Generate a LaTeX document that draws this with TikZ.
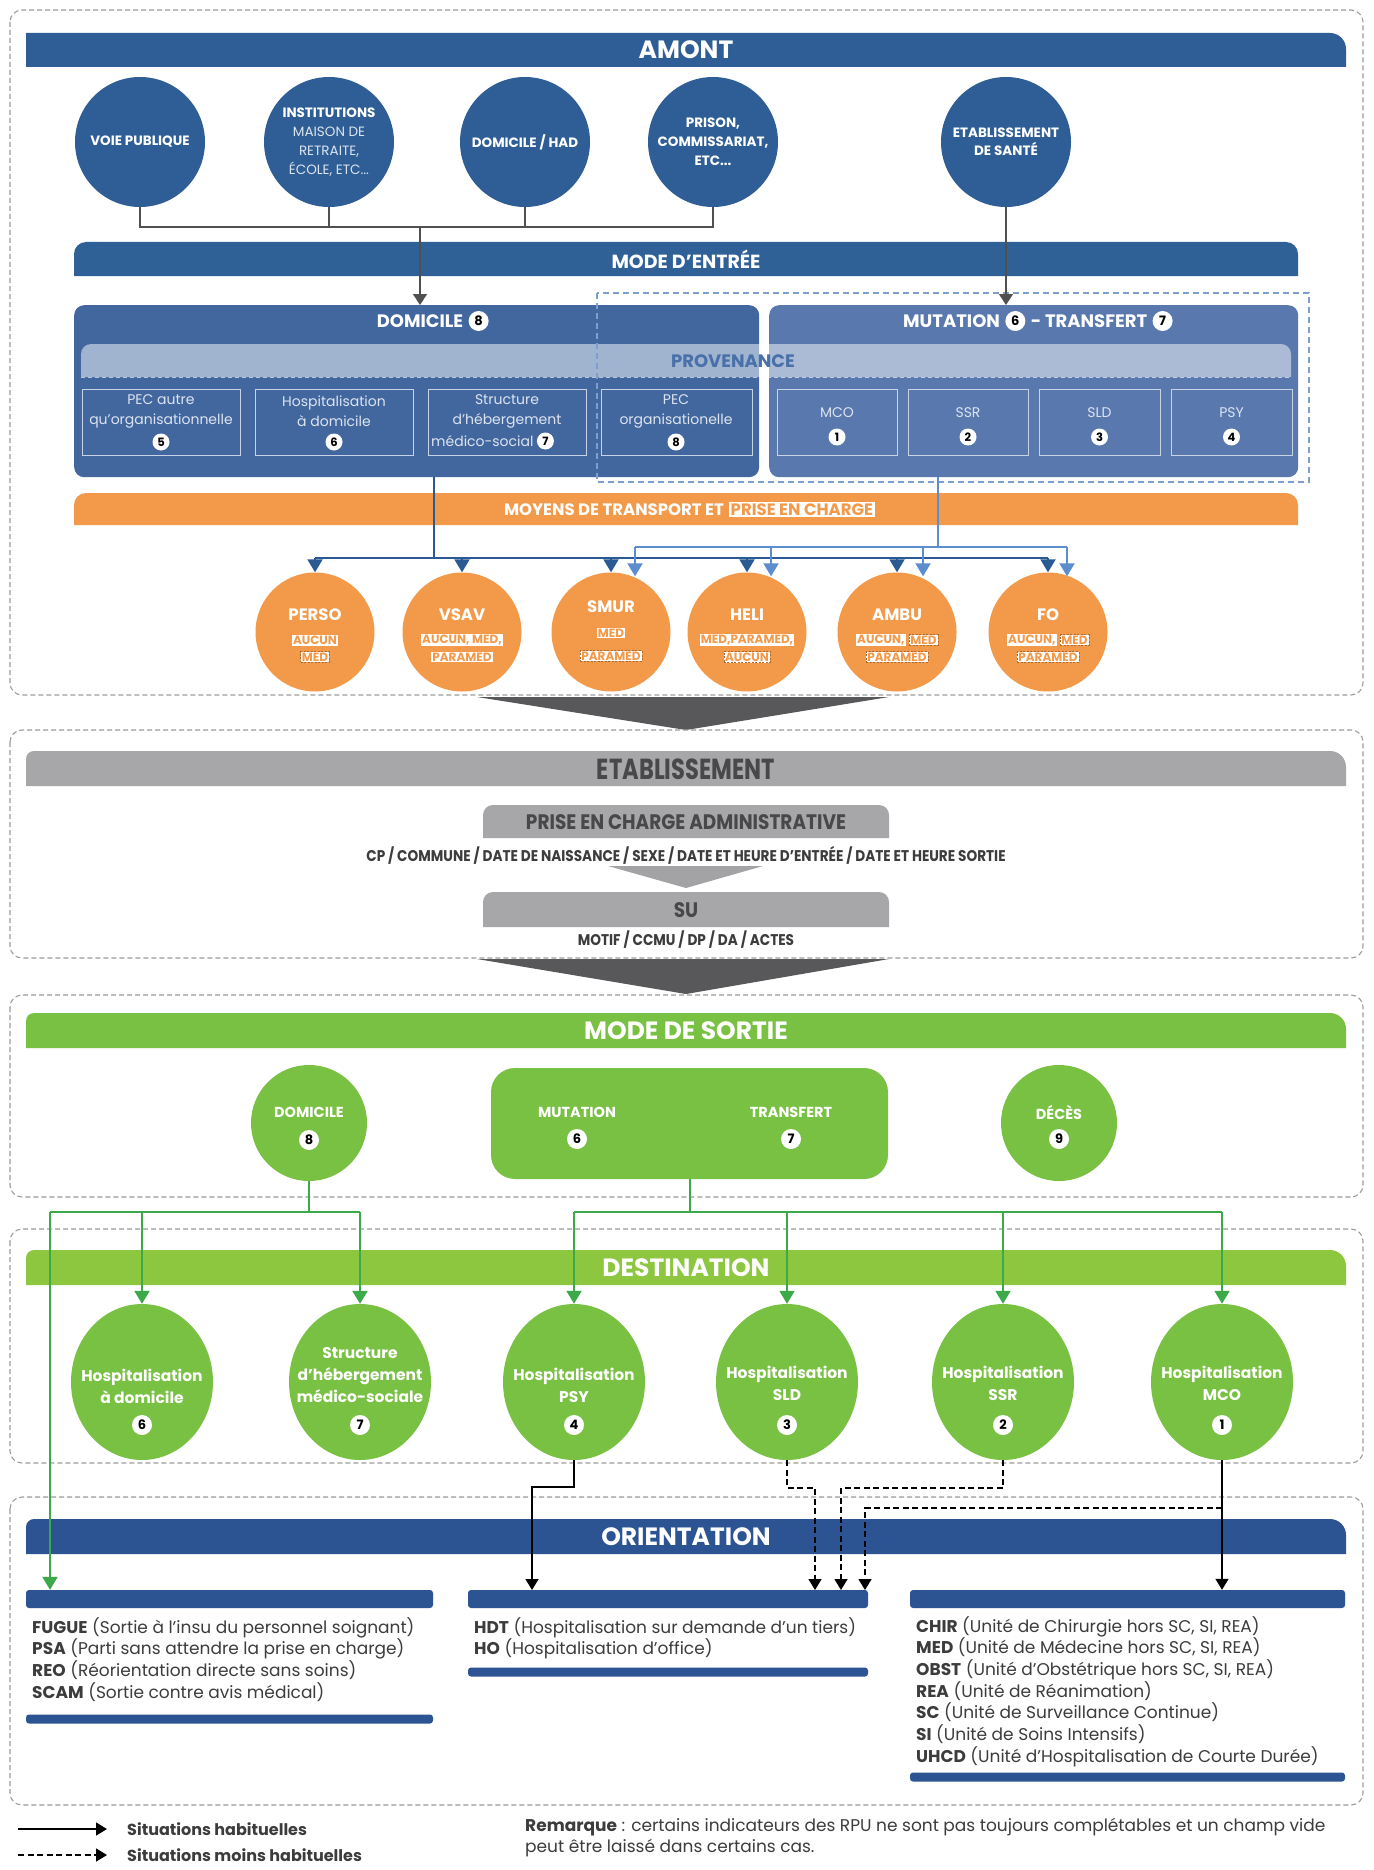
\documentclass[tikz,border=0pt]{standalone}
\usepackage{fontspec}
\usepackage{graphicx}
\setmainfont{Poppins}
\usetikzlibrary{arrows.meta,calc,positioning,shapes.geometric}
\definecolor{navy}{HTML}{2E5E95}
\definecolor{entree}{HTML}{2F6096}
\definecolor{boxA}{HTML}{42679F}
\definecolor{boxB}{HTML}{5878AE}
\definecolor{provtxt}{HTML}{4870A9}
\definecolor{subln}{HTML}{C8D3E6}
\definecolor{subtx}{HTML}{DDE4F0}
\definecolor{dblue}{HTML}{7C9FD0}
\definecolor{orng}{HTML}{F39A4A}
\definecolor{darrow}{HTML}{2A5A94}
\definecolor{larrow}{HTML}{5C8DCE}
\definecolor{gbar}{HTML}{A7A7A9}
\definecolor{gtxt}{HTML}{48484A}
\definecolor{chev}{HTML}{58585A}
\definecolor{chevl}{HTML}{A3A3A5}
\definecolor{grn}{HTML}{79C143}
\definecolor{grn2}{HTML}{8DC740}
\definecolor{gline}{HTML}{3DAA4A}
\definecolor{onavy}{HTML}{2D5492}
\definecolor{dashg}{HTML}{9C9C9C}
\definecolor{txt}{HTML}{3C3C3C}
\definecolor{conn}{HTML}{505050}
\newcommand{\fs}[2]{\fontsize{#1}{#2}\selectfont}
\newcommand{\tabbar}[7]{\fill[#1] (#2,#5) -- (#2,#3+#6) arc[start angle=180,end angle=270,radius=#6] -- (#4-#7,#3) arc[start angle=-90,end angle=0,radius=#7] -- (#4,#5) -- cycle;}
\newcommand{\cnd}[2]{\scalebox{#1}[1]{#2}}
\newcommand{\lt}[1]{{\mdseries\color{subtx}#1}}
\begin{document}
\begin{tikzpicture}[x=1pt,y=-1pt,
  sec/.style={draw=dashg, line width=1.1pt, dash pattern=on 5pt off 3pt, rounded corners=12pt},
  htitle/.style={text=white, font=\bfseries\fs{25}{28}, inner sep=0pt},
  hdr/.style={text=white, font=\bfseries\fs{18}{20}, inner sep=0pt},
  badge/.style={circle, fill=white, text=black, inner sep=0pt, minimum size=17pt, font=\bfseries\fs{11.5}{12}},
  badgeL/.style={badge, minimum size=20pt, font=\bfseries\fs{13}{13}},
  bc/.style={circle, fill=navy, minimum size=130pt, inner sep=0pt, align=center, text=white, font=\bfseries\fs{13.5}{19}},
  gconn/.style={draw=conn, line width=1.5pt},
  garr/.style={gconn, -{Triangle[width=14pt,length=11pt]}},
  sb/.style={draw=subln, line width=1.2pt, inner sep=0pt, minimum height=66pt, anchor=north west},
  st/.style={text=subtx, font=\fs{14}{20}, align=center, inner sep=0pt},
  oc/.style={circle, fill=orng, minimum size=119pt, inner sep=0pt},
  ot/.style={text=white, font=\bfseries\fs{16.5}{18}, inner sep=0pt},
  ol/.style={fill=white, text=orng, font=\bfseries\fs{12}{13}, inner sep=1.2pt},
  old/.style={ol, draw=orng!70!black, dash pattern=on 2pt off 1.5pt, line width=0.5pt},
  dl/.style={draw=darrow, line width=2pt},
  da/.style={dl, -{Triangle[width=15pt,length=13pt]}},
  ll/.style={draw=larrow, line width=2pt},
  la/.style={ll, -{Triangle[width=15pt,length=13pt]}},
  gt/.style={text=gtxt, font=\bfseries\fs{21}{22}, inner sep=0pt},
  gsub/.style={text=txt, font=\bfseries\fs{15.5}{16}, inner sep=0pt},
  gc/.style={circle, fill=grn, minimum size=116pt, inner sep=0pt},
  gtx/.style={text=white, font=\bfseries\fs{14.5}{16}, inner sep=0pt},
  badgeG/.style={badge, minimum size=20pt, font=\bfseries\fs{13}{13}},
  gl/.style={draw=gline, line width=2pt},
  gla/.style={gl, -{Triangle[width=15pt,length=13pt]}},
  de/.style={ellipse, fill=grn, minimum width=142pt, minimum height=156pt, inner sep=0pt},
  dtx/.style={text=white, font=\bfseries\fs{15.5}{22}, align=center, inner sep=0pt},
  obar/.style={fill=onavy, rounded corners=3pt, inner sep=0pt},
  otx/.style={text=txt, font=\fs{17}{21.7}, align=left, inner sep=0pt, anchor=north west},
  barr/.style={draw=black, line width=1.5pt, -{Triangle[width=13pt,length=11pt]}},
  dbarr/.style={barr, dash pattern=on 6pt off 3.5pt}]
\useasboundingbox (0,0) rectangle (1373,1870);
\fill[white] (0,0) rectangle (1373,1870);

% ================= SECTION 1 : AMONT =================
\draw[sec] (10,10) rectangle (1363,695);
\tabbar{navy}{26}{33}{1346}{67}{0.01}{16}
\node[htitle] (amont) at (686,50) {AMONT};

\node[bc] (c1) at (140,142) {VOIE PUBLIQUE};
\node[bc] (c2) at (329,142) {INSTITUTIONS\\\lt{MAISON DE}\\\lt{RETRAITE,}\\\lt{ÉCOLE, ETC...}};
\node[bc] (c3) at (525,142) {DOMICILE / HAD};
\node[bc] (c4) at (713,142) {PRISON,\\COMMISSARIAT,\\ETC...};
\node[bc, font=\bfseries\fs{13.5}{18}] (c5) at (1006,142) {ETABLISSEMENT\\DE SANTÉ};

\tabbar{entree}{74}{242}{1298}{276}{12}{12}
\node[htitle, font=\bfseries\fs{19}{22}] (entree) at (686,259) {MODE D'ENTRÉE};

\node[fill=boxA, rounded corners=10pt, minimum width=685pt, minimum height=172pt, inner sep=0pt, anchor=north west] (dombox) at (74,305) {};
\node[fill=boxB, rounded corners=10pt, minimum width=529pt, minimum height=172pt, inner sep=0pt, anchor=north west] (mutbox) at (769,305) {};

\node[hdr] (domt) at (420,321) {DOMICILE};
\node[badgeL, right=5pt of domt] (bd8) {8};
\node[hdr, anchor=west] (mt1) at (903,321) {MUTATION};
\node[badgeL, right=5pt of mt1] (bd6) {6};
\node[hdr, right=5pt of bd6] (mt2) {- TRANSFERT};
\node[badgeL, right=5pt of mt2] (bd7) {7};

\tabbar{white,fill opacity=0.5}{81}{344}{1291}{377}{10}{10}
\draw[white, opacity=0.6, line width=1pt, dash pattern=on 4pt off 3pt] (81,377) -- (1291,377);
\node[font=\bfseries\fs{18}{20}, text=provtxt, inner sep=0pt] (prov) at (733,361) {PROVENANCE};

\node[sb, minimum width=158pt] (s1) at (82,389) {};
\node[sb, minimum width=158pt] (s2) at (255,389) {};
\node[sb, minimum width=158pt] (s3) at (428,389) {};
\node[sb, minimum width=151pt] (s4) at (601,389) {};
\node[sb, minimum width=120pt] (s5) at (777,389) {};
\node[sb, minimum width=120pt] (s6) at (908,389) {};
\node[sb, minimum width=121pt] (s7) at (1039,389) {};
\node[sb, minimum width=121pt] (s8) at (1171,389) {};

\node[st] (t1) at (161,411) {PEC autre\\qu'organisationnelle};
\node[badge] (b5) at (161,442) {5};
\node[st] (t2) at (334,411) {Hospitalisation\\à domicile};
\node[badge] (b6) at (334,442) {6};
\node[st] (t3) at (507,411) {Structure\\d'hébergement};
\node[st, anchor=west] (t3b) at (431,441) {médico-social};
\node[badge, right=3pt of t3b] (b7) {7};
\node[st] (t4) at (676,411) {PEC\\organisationelle};
\node[badge] (b8) at (676,442) {8};
\node[st] (t5) at (837,413) {MCO};
\node[badge] (b1) at (837,437) {1};
\node[st] (t6) at (968,413) {SSR};
\node[badge] (b2) at (968,437) {2};
\node[st] (t7) at (1099.5,413) {SLD};
\node[badge] (b3) at (1099.5,437) {3};
\node[st] (t8) at (1231.5,413) {PSY};
\node[badge] (b4) at (1231.5,437) {4};

\draw[draw=dblue, line width=1.4pt, dash pattern=on 6pt off 4pt] (597,293) rectangle (1309,482);

\tabbar{orng}{74}{493}{1298}{525}{12}{12}
\node[text=white, font=\bfseries\fs{16.5}{18}, inner sep=0pt, anchor=base east] (moy) at (724,515) {MOYENS DE TRANSPORT ET};
\node[fill=white, text=orng, font=\bfseries\fs{16.5}{18}, inner sep=1.5pt, anchor=base west] (pec) at (729,515) {PRISE EN CHARGE};

% connectors amont
\coordinate (j1) at (420,227);
\draw[gconn] (c1.south) |- (c4.south |- j1) -- (c4.south);
\draw[gconn] (c2.south) -- (c2.south |- j1);
\draw[gconn] (c3.south) -- (c3.south |- j1);
\draw[garr] (j1) -- (j1 |- dombox.north);
\draw[garr] (c5.south) -- (c5.south |- mutbox.north);

% orange circles
\node[oc] (o1) at (315,632) {};
\node[oc] (o2) at (462,632) {};
\node[oc] (o3) at (611,632) {};
\node[oc] (o4) at (747,632) {};
\node[oc] (o5) at (897,632) {};
\node[oc] (o6) at (1048,632) {};
\node[ot] (ot1) at (315,615) {PERSO};
\node[ol] (l1a) at (315,640) {AUCUN};
\node[old] (l1b) at (315,657) {MED};
\node[ot] (ot2) at (462,615) {VSAV};
\node[ol] (l2a) at (462,640) {AUCUN, MED,};
\node[ol] (l2b) at (462,657) {PARAMED};
\node[ot] (ot3) at (611,607) {SMUR};
\node[ol] (l3a) at (611,633) {MED};
\node[old] (l3b) at (611,656) {PARAMED};
\node[ot] (ot4) at (747,615) {HELI};
\node[ol] (l4a) at (747,640) {MED,PARAMED,};
\node[old] (l4b) at (747,657) {AUCUN};
\node[ot] (ot5) at (897,615) {AMBU};
\node[ol, anchor=east] (l5a) at (906,640) {AUCUN,};
\node[old, anchor=west] (l5b) at (909,640) {MED};
\node[old] (l5c) at (897,657) {PARAMED};
\node[ot] (ot6) at (1048,615) {FO};
\node[ol, anchor=east] (l6a) at (1057,640) {AUCUN,};
\node[old, anchor=west] (l6b) at (1060,640) {MED};
\node[old] (l6c) at (1048,657) {PARAMED};

\coordinate (dj) at (434,558);
\draw[dl] (dombox.south -| dj) -- (dj);
\draw[dl] (o1.north |- dj) -- (o6.north |- dj);
\foreach \o in {o1,o2,o3,o4,o5,o6} \draw[da] (\o.north |- dj) -- (\o.north);
\coordinate (mj) at (938,547);
\draw[ll] (mutbox.south -| mj) -- (mj);
\draw[ll] ($(o3.north |- mj)+(24,0)$) -- ($(o6.north |- mj)+(19,0)$);
\foreach \o/\dx in {o3/24,o4/24,o5/26,o6/19} \draw[la] ($(\o.north |- mj)+(\dx,0)$) -- ($(\o.north)+(\dx,4)$);

\fill[chev] (477,697) -- (889,697) -- (686,730) -- cycle;

% ================= SECTION 2 : ETABLISSEMENT =================
\draw[sec] (10,730) rectangle (1363,958);
\tabbar{gbar}{26}{751}{1346}{786}{8}{16}
\node[gt, font=\bfseries\fs{29}{30}] (etab) at (686,769) {\cnd{0.78}{ETABLISSEMENT}};
\tabbar{gbar}{483}{805}{889}{838}{10}{10}
\node[gt] (pca) at (686,822) {\cnd{0.88}{PRISE EN CHARGE ADMINISTRATIVE}};
\node[gsub] (cpl) at (686,855) {\cnd{0.88}{CP / COMMUNE / DATE DE NAISSANCE / SEXE / DATE ET HEURE D'ENTRÉE / DATE ET HEURE SORTIE}};
\fill[chevl] (608,866) -- (763,866) -- (686,888) -- cycle;
\tabbar{gbar}{483}{892}{889}{927}{10}{10}
\node[gt] (su) at (686,910) {\cnd{0.88}{SU}};
\node[gsub] (mot) at (686,940) {\cnd{0.88}{MOTIF / CCMU / DP / DA / ACTES}};
\fill[chev] (477,959) -- (889,959) -- (686,994) -- cycle;

% ================= SECTION 3 : MODE DE SORTIE =================
\draw[sec] (10,995) rectangle (1363,1197);
\tabbar{grn}{26}{1013}{1346}{1048}{8}{16}
\node[htitle] (mds) at (686,1031) {MODE DE SORTIE};
\node[gc] (sdom) at (309,1123) {};
\node[gtx] (sdomt) at (309,1112) {DOMICILE};
\node[badgeG] (g8) at (309,1140) {8};
\node[fill=grn, rounded corners=24pt, minimum width=397pt, minimum height=111pt, inner sep=0pt] (smt) at (689.5,1123.5) {};
\node[gtx] (smt1) at (577,1112) {MUTATION};
\node[badgeG] (g6) at (577,1139) {6};
\node[gtx] (smt2) at (791,1112) {TRANSFERT};
\node[badgeG] (g7) at (791,1139) {7};
\node[gc] (sdec) at (1059,1123) {};
\node[gtx] (sdect) at (1059,1112) {DÉCÈS};
\node[badgeG] (g9) at (1059,1139) {9};

% ================= SECTION 4 : DESTINATION =================
\draw[sec] (10,1229) rectangle (1363,1463);
\tabbar{grn2}{26}{1250}{1346}{1285}{8}{16}
\node[htitle] (dest) at (686,1268) {DESTINATION};
\node[de] (d1) at (142,1382) {};
\node[de] (d2) at (360,1382) {};
\node[de] (d3) at (574,1382) {};
\node[de] (d4) at (787,1382) {};
\node[de] (d5) at (1003,1382) {};
\node[de] (d6) at (1222,1382) {};
\node[dtx] (dt1) at (142,1386) {Hospitalisation\\à domicile};
\node[badgeG] (dg6) at (142,1425) {6};
\node[dtx] (dt2) at (360,1375) {Structure\\d'hébergement\\médico-sociale};
\node[badgeG] (dg7) at (360,1425) {7};
\node[dtx] (dt3) at (574,1385) {Hospitalisation\\PSY};
\node[badgeG] (dg4) at (574,1425) {4};
\node[dtx] (dt4) at (787,1383) {Hospitalisation\\SLD};
\node[badgeG] (dg3) at (787,1425) {3};
\node[dtx] (dt5) at (1003,1383) {Hospitalisation\\SSR};
\node[badgeG] (dg2) at (1003,1425) {2};
\node[dtx] (dt6) at (1222,1383) {Hospitalisation\\MCO};
\node[badgeG] (dg1) at (1222,1425) {1};

% ================= SECTION 5 : ORIENTATION =================
\draw[sec] (10,1497) rectangle (1363,1805);
\tabbar{onavy}{26}{1519}{1346}{1554}{8}{16}
\node[htitle] (orient) at (686,1537) {ORIENTATION};
\node[obar, minimum width=407pt, minimum height=18pt] (lbar) at (229.5,1599) {};
\node[obar, minimum width=400pt, minimum height=18pt] (mbar) at (668,1599) {};
\node[obar, minimum width=435pt, minimum height=18pt] (rbar) at (1127.5,1599) {};
\node[obar, minimum width=407pt, minimum height=9pt] (lbar2) at (229.5,1719) {};
\node[obar, minimum width=400pt, minimum height=9pt] (mbar2) at (668,1672) {};
\node[obar, minimum width=435pt, minimum height=9pt] (rbar2) at (1127.5,1777) {};
\node[otx] (ltx) at (32,1617) {\textbf{FUGUE} (Sortie à l'insu du personnel soignant)\\\textbf{PSA} (Parti sans attendre la prise en charge)\\\textbf{REO} (Réorientation directe sans soins)\\\textbf{SCAM} (Sortie contre avis médical)};
\node[otx] (mtx) at (474,1617) {\textbf{HDT} (Hospitalisation sur demande d'un tiers)\\\textbf{HO} (Hospitalisation d'office)};
\node[otx] (rtx) at (916,1616) {\textbf{CHIR} (Unité de Chirurgie hors SC, SI, REA)\\\textbf{MED} (Unité de Médecine hors SC, SI, REA)\\\textbf{OBST} (Unité d'Obstétrique hors SC, SI, REA)\\\textbf{REA} (Unité de Réanimation)\\\textbf{SC} (Unité de Surveillance Continue)\\\textbf{SI} (Unité de Soins Intensifs)\\\textbf{UHCD} (Unité d'Hospitalisation de Courte Durée)};

% green connectors
\coordinate (gj1) at (309,1212);
\coordinate (fg) at (50,1212);
\draw[gl] (sdom.south) -- (gj1);
\draw[gl] (fg) -- (d2.north |- gj1);
\draw[gla] (fg) -- (fg |- lbar.north);
\draw[gla] (d1.north |- gj1) -- (d1.north);
\draw[gla] (d2.north |- gj1) -- (d2.north);
\draw[gl] (smt.south) -- (smt.south |- gj1);
\draw[gl] (d3.north |- gj1) -- (d6.north |- gj1);
\foreach \d in {d3,d4,d5,d6} \draw[gla] (\d.north |- gj1) -- (\d.north);

% black connectors
\coordinate (ePSY) at (532,1590);
\coordinate (eSLD) at (815,1590);
\coordinate (eSSR) at (841,1590);
\coordinate (eMCOd) at (865,1590);
\coordinate (mcoJ) at (1222,1508);
\draw[barr] (d3.south) -- ++(0,27) -| (ePSY);
\draw[dbarr] (d4.south) -- ++(0,28) -| (eSLD);
\draw[dbarr] (d5.south) -- ++(0,28) -| (eSSR);
\draw[barr] (d6.south) -- (d6.south |- rbar.north);
\draw[dbarr] (mcoJ) -| (eMCOd);

% legend
\coordinate (la1) at (18,1829);
\coordinate (lb1) at (107,1829);
\coordinate (la2) at (18,1855);
\coordinate (lb2) at (107,1855);
\draw[barr] (la1) -- (lb1);
\draw[dbarr] (la2) -- (lb2);
\node[anchor=west, text=txt, font=\bfseries\fs{16}{18}, inner sep=0pt] (lg1) at (127,1829) {Situations habituelles};
\node[anchor=west, text=txt, font=\bfseries\fs{16}{18}, inner sep=0pt] (lg2) at (127,1855) {Situations moins habituelles};
\node[otx, font=\fs{17}{21}] (rem) at (525,1818) {\textbf{Remarque} : certains indicateurs des RPU ne sont pas toujours complétables et un champ vide\\peut être laissé dans certains cas.};
\end{tikzpicture}
\end{document}
